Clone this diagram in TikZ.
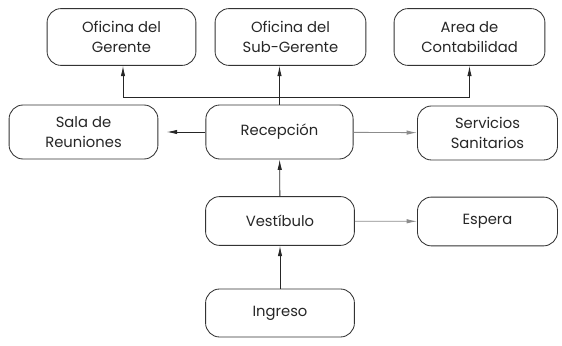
\documentclass[tikz,border=0pt]{standalone}
\usepackage{fontspec}
\setmainfont{Poppins}
\usetikzlibrary{arrows.meta}
\begin{document}
\begin{tikzpicture}[x=0.025cm,y=-0.025cm,
  caja/.style={draw=black!80,line width=0.6pt,rounded corners=10pt,minimum width=3.72cm,minimum height=1.35cm,
    align=center,font=\fontsize{10.5}{14}\selectfont,text=black!85},
  flecha/.style={-{Latex[length=2.6mm,width=1.1mm]},line width=0.6pt,black!85}]
\useasboundingbox (0,0) rectangle (562,346);
% oficinas
\node[caja,minimum height=1.42cm] (gerente) at (121.5,37) {Oficina del\\Gerente};
\node[caja,minimum height=1.42cm,minimum width=3.77cm] (subgerente) at (290.5,37) {Oficina del\\Sub-Gerente};
\node[caja,minimum height=1.42cm,minimum width=3.77cm] (contab) at (469.5,37) {Area de\\Contabilidad};
% segunda fila
\node[caja] (sala) at (83.5,132) {Sala de\\Reuniones};
\node[caja,minimum width=3.68cm] (recepcion) at (279.5,132) {Recepción};
\node[caja,minimum width=3.5cm] (servicios) at (487.5,133) {Servicios\\Sanitarios};
% abajo
\node[caja,minimum height=1.22cm] (vestibulo) at (280,221) {Vestíbulo};
\node[caja,minimum height=1.22cm,minimum width=3.5cm] (espera) at (487.5,221.5) {Espera};
\node[caja,minimum height=1.2cm] (ingreso) at (280,313) {Ingreso};
\coordinate (reparto) at (279.5,97);
\coordinate (codo) at (123,97);
\draw[line width=0.6pt,black!85] (recepcion) -- (reparto);
\draw[flecha] (reparto) -- (codo) -- (codo |- gerente.south);
\draw[flecha] (reparto) -- (reparto |- subgerente.south);
\draw[flecha] (reparto) -| (contab);
\draw[flecha,shorten >=6] (recepcion) -- (sala);
\draw[flecha,black!45] (recepcion) -- (servicios);
\draw[flecha] (vestibulo) -- (recepcion);
\draw[flecha,black!45] (vestibulo) -- (espera);
\draw[flecha] (ingreso) -- (vestibulo);
\end{tikzpicture}
\end{document}
